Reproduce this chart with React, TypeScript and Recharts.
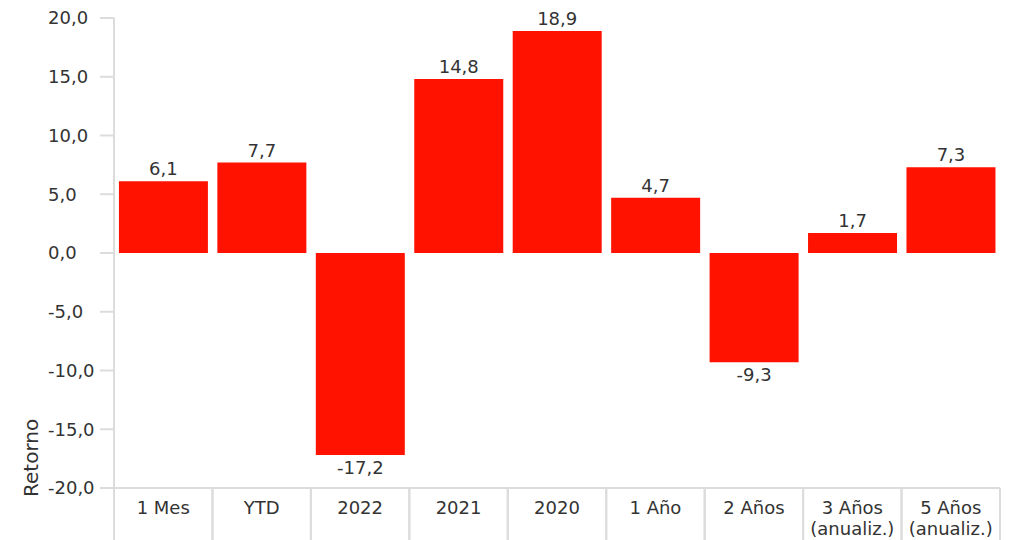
import React from 'react';
import { BarChart, Bar, XAxis, YAxis, LabelList } from 'recharts';

const categories = ['1 Mes', 'YTD', '2022', '2021', '2020', '1 Año', '2 Años', '3 Años\n(anualiz.)', '5 Años\n(anualiz.)'];
const returns = [6.1, 7.7, -17.2, 14.8, 18.9, 4.7, -9.3, 1.7, 7.3];
const yTicks = [-20, -15, -10, -5, 0, 5, 10, 15, 20];

const data = categories.map((name, i) => ({ name, value: returns[i] }));

const FONT = '"DejaVu Sans", Verdana, sans-serif';
const TEXT = '#333333';
const GRID = '#dcdcdc';
const RED = '#ff1300';

const W = 1013;
const H = 540;
const MARGIN = { top: 18, right: 13, bottom: 0, left: 0 };
const Y_WIDTH = 114;
const X_HEIGHT = 52;

const fmt = (v: number) => v.toFixed(1).replace('.', ',');

function CategoryTick(props: any) {
  const { x, y, payload } = props;
  const half = payload?.offset ?? (W - MARGIN.right - Y_WIDTH) / categories.length / 2;
  const lines = String(payload.value).split('\n');
  return (
    <g>
      <line x1={x - half} x2={x - half} y1={y} y2={y + X_HEIGHT} stroke={GRID} strokeWidth={2} />
      <line x1={x + half} x2={x + half} y1={y} y2={y + X_HEIGHT} stroke={GRID} strokeWidth={2} />
      {lines.map((l, i) => (
        <text key={i} x={x} y={y + 20 + i * 21} dy="0.35em" textAnchor="middle" fill={TEXT} fontSize={18} fontFamily={FONT}>
          {l}
        </text>
      ))}
    </g>
  );
}

// value labels on the left are left-aligned in the original
function ValueTick(props: any) {
  const { y, payload } = props;
  return (
    <text x={48} y={y} dy="0.35em" textAnchor="start" fill={TEXT} fontSize={18} fontFamily={FONT}>
      {fmt(Number(payload.value))}
    </text>
  );
}

function AxisTitle(props: any) {
  const { viewBox } = props;
  const x = viewBox.x + 31;
  const y = viewBox.y + viewBox.height + 9;
  return (
    <text x={x} y={y} transform={`rotate(-90, ${x}, ${y})`} dy="0.35em" textAnchor="start" fill={TEXT} fontSize={20} fontFamily={FONT}>
      Retorno
    </text>
  );
}

export default function App() {
  return (
    <div style={{ position: 'absolute', left: 0, top: 0, width: W, height: H, background: '#fff' }}>
      <BarChart width={W} height={H} data={data} margin={MARGIN} barCategoryGap="5%">
        <XAxis
          dataKey="name"
          height={X_HEIGHT}
          axisLine={{ stroke: GRID, strokeWidth: 2 }}
          tickLine={false}
          tickSize={0}
          tickMargin={0}
          interval={0}
          tick={<CategoryTick />}
        />
        <YAxis
          width={Y_WIDTH}
          domain={[-20, 20]}
          ticks={yTicks}
          axisLine={{ stroke: GRID, strokeWidth: 2 }}
          tickLine={{ stroke: GRID, strokeWidth: 2 }}
          tickSize={14}
          tick={<ValueTick />}
          label={<AxisTitle />}
        />
        <Bar dataKey="value" fill={RED} isAnimationActive={false}>
          <LabelList
            dataKey="value"
            position="top"
            offset={6}
            formatter={(v: any) => fmt(Number(v))}
            style={{ fill: TEXT, fontSize: 18, fontFamily: FONT }}
          />
        </Bar>
      </BarChart>
    </div>
  );
}
